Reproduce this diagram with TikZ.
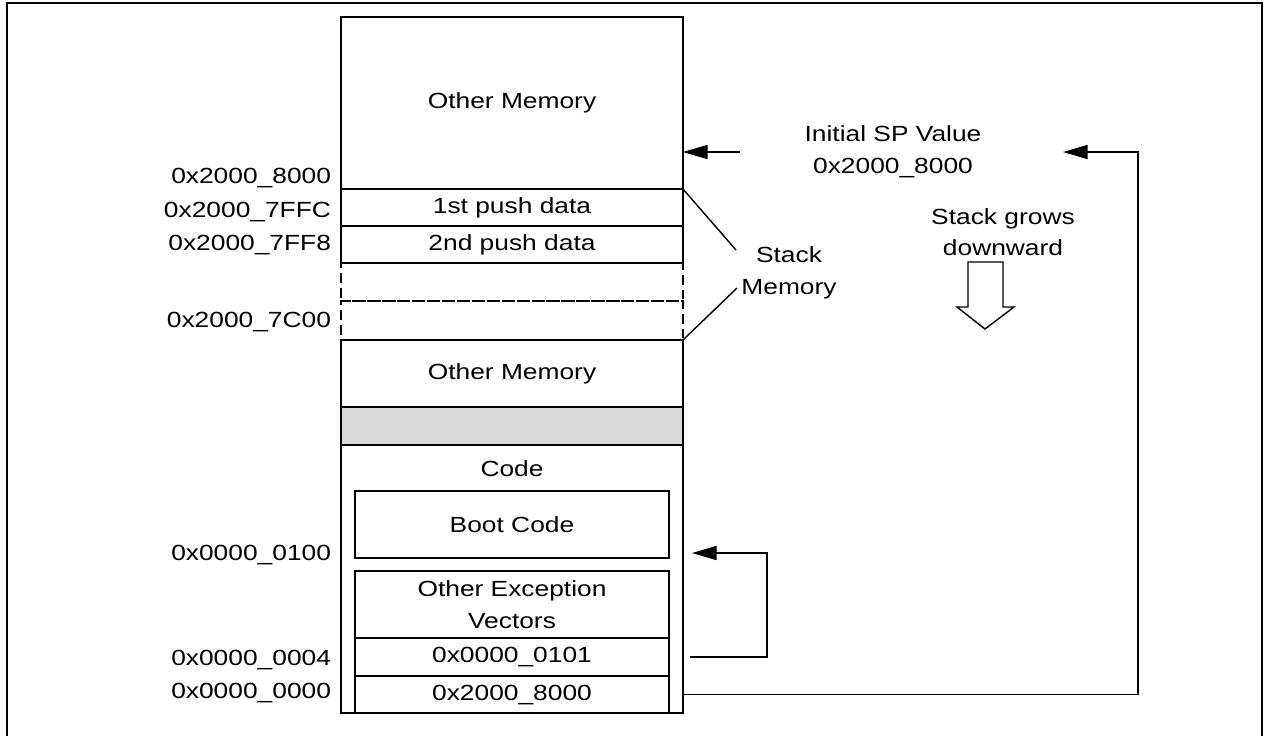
\documentclass[tikz,border=0pt]{standalone}
\usepackage{fontspec}
\setmainfont{Liberation Sans}[FakeStretch=1.2]
\usetikzlibrary{arrows.meta}

\begin{document}
\begin{tikzpicture}
    [
    x=0.02cm, y=-0.02cm,
    every node/.style={font=\fontsize{12.5}{18}\selectfont, align=center, inner sep=0pt, outer sep=0pt},
    membox/.style={draw, line width=0.8pt, minimum width=6.84cm},
    subbox/.style={draw, line width=0.8pt, minimum width=6.28cm},
    gapbox/.style={membox, dash pattern=on 5.5pt off 3pt},
    addr/.style={anchor=east},
    link/.style={draw, line width=0.8pt},
    ptr/.style={link, -{Triangle[length=14pt,width=8pt]}}
    ]

    \useasboundingbox (0,0) rectangle (1267,735);
    \draw[line width=1.5pt] (7,745) -- (7,3) -- (1262,3) -- (1262,745);

    % memory column
    \node[gapbox, minimum height=0.76cm] (gap1) at (512,282) {};
    \node[gapbox, minimum height=0.78cm] (gap2) at (512,320.5) {};
    \node[membox, minimum height=3.44cm] (memtop) at (512,103) {Other Memory};
    \node[membox, minimum height=0.74cm] (push1) at (512,207.5) {1st push data};
    \node[membox, minimum height=0.74cm] (push2) at (512,244.5) {2nd push data};
    \node[membox, minimum height=1.34cm] (mem2) at (512,373.5) {Other Memory};
    \node[membox, minimum height=0.76cm, fill=gray!30] (unused) at (512,426) {};
    \node[membox, minimum height=5.36cm] (code) at (512,579) {};
    \node (codelbl) at (512,469) {Code};
    \node[subbox, minimum height=1.34cm] (boot) at (512,524.5) {Boot Code};
    \node[subbox, minimum height=1.34cm] (exc) at (512,604.5) {Other Exception\\Vectors};
    \node[subbox, minimum height=0.76cm] (v1) at (512,657) {0x0000\_0101};
    \node[subbox, minimum height=0.74cm] (v0) at (512,694.5) {0x2000\_8000};

    % addresses
    \node[addr] (a8000) at (331,178) {0x2000\_8000};
    \node[addr] (a7ffc) at (331,212) {0x2000\_7FFC};
    \node[addr] (a7ff8) at (331,245) {0x2000\_7FF8};
    \node[addr] (a7c00) at (331,322) {0x2000\_7C00};
    \node[addr] (a0100) at (331,555) {0x0000\_0100};
    \node[addr] (a0004) at (331,660) {0x0000\_0004};
    \node[addr] (a0000) at (331,693) {0x0000\_0000};

    % notes
    \node (initsp) at (893,152) {Initial SP Value\\0x2000\_8000};
    \node (stack) at (789,273) {Stack\\Memory};
    \node (grows) at (1003,232) {Stack grows\\downward};

    \coordinate (stk1) at (736,250);
    \coordinate (stk2) at (737,288);
    \draw[link] (push1.north east) -- (stk1);
    \draw[link] (gap2.south east) -- (stk2);

    \draw[line width=0.8pt] (968,262) -- (1003,262) -- (1003,307) -- (1014,307)
        -- (985,329) -- (957,307) -- (968,307) -- cycle;

    % pointers
    \coordinate (spfrom) at (740,152);
    \coordinate (sptip) at (1063,152);
    \coordinate (rstfrom) at (690,657);
    \coordinate (rsttip) at (692,553);
    \draw[ptr] (spfrom) -- (spfrom -| memtop.east);
    \draw[ptr] (v0 -| code.east) -- ++(455,0) |- (sptip);
    \draw[ptr] (rstfrom) -- ++(77,0) |- (rsttip);
\end{tikzpicture}
\end{document}
